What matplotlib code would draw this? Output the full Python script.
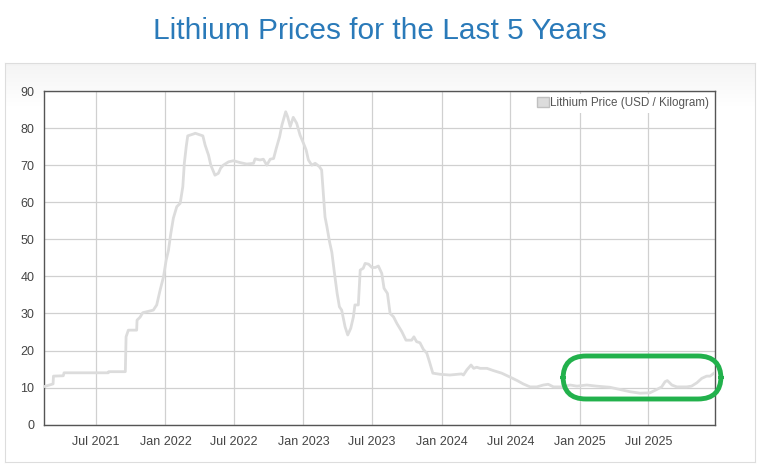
import matplotlib.pyplot as plt
from matplotlib.patches import FancyBboxPatch, Rectangle
import numpy as np
import pandas as pd

# values
dates = [
    '2021-02-15', '2021-03-10', '2021-03-11', '2021-04-06', '2021-04-08', '2021-08-03', '2021-08-04',
    '2021-09-17', '2021-09-19', '2021-09-25', '2021-10-17', '2021-10-18', '2021-10-26', '2021-11-02',
    '2021-11-30', '2021-12-09', '2021-12-18', '2021-12-27', '2022-01-03', '2022-01-09', '2022-01-15',
    '2022-01-22', '2022-01-31', '2022-02-09', '2022-02-16', '2022-02-20', '2022-02-25', '2022-03-01',
    '2022-03-16', '2022-03-21', '2022-04-10', '2022-04-16', '2022-04-25', '2022-05-01', '2022-05-12',
    '2022-05-21', '2022-05-27', '2022-06-03', '2022-06-17', '2022-06-30', '2022-07-17', '2022-08-04',
    '2022-08-22', '2022-08-26', '2022-09-08', '2022-09-17', '2022-09-26', '2022-10-05', '2022-10-14',
    '2022-10-21', '2022-10-30', '2022-11-05', '2022-11-15', '2022-11-20', '2022-11-27', '2022-12-05',
    '2022-12-14', '2022-12-23', '2023-01-01', '2023-01-08', '2023-01-14', '2023-01-23', '2023-02-01',
    '2023-02-12', '2023-02-18', '2023-02-23', '2023-02-27', '2023-03-04', '2023-03-11', '2023-03-17',
    '2023-03-24', '2023-03-31', '2023-04-06', '2023-04-12', '2023-04-21', '2023-04-28', '2023-05-06',
    '2023-05-13', '2023-05-17', '2023-05-26', '2023-05-31', '2023-06-08', '2023-06-13', '2023-06-22',
    '2023-07-01', '2023-07-10', '2023-07-18', '2023-07-27', '2023-08-02', '2023-08-11', '2023-08-18',
    '2023-08-27', '2023-09-05', '2023-09-18', '2023-09-29', '2023-10-14', '2023-10-20', '2023-10-27',
    '2023-11-05', '2023-11-14', '2023-11-23', '2023-11-30', '2023-12-09', '2023-12-28', '2024-01-23',
    '2024-02-23', '2024-02-28', '2024-03-08', '2024-03-19', '2024-03-26', '2024-04-03', '2024-04-12',
    '2024-04-30', '2024-05-17', '2024-06-08', '2024-07-01', '2024-07-19', '2024-08-04', '2024-08-22',
    '2024-09-09', '2024-09-26', '2024-10-09', '2024-10-23', '2024-11-14', '2024-12-06', '2024-12-24',
    '2025-01-19', '2025-02-14', '2025-03-21', '2025-04-17', '2025-05-13', '2025-06-09', '2025-07-05',
    '2025-07-23', '2025-08-05', '2025-08-14', '2025-08-20', '2025-09-01', '2025-09-14', '2025-10-10',
    '2025-10-23', '2025-11-06', '2025-11-19', '2025-12-02', '2025-12-11', '2025-12-24',
]
prices = [
    10.3, 11.0, 13.1, 13.2, 14.0, 14.0, 14.3,
    14.3, 23.7, 25.5, 25.5, 28.2, 29.0, 30.2,
    30.9, 32.3, 36.3, 39.9, 44.4, 47.0, 51.4,
    55.7, 58.8, 59.7, 64.2, 70.5, 75.0, 77.9,
    78.4, 78.6, 77.9, 75.4, 72.7, 70.0, 67.3,
    67.8, 69.2, 70.0, 70.9, 71.2, 70.7, 70.3,
    70.5, 71.7, 71.4, 71.6, 70.0, 71.6, 71.8,
    74.5, 77.7, 80.8, 84.4, 83.1, 80.4, 82.9,
    81.3, 78.1, 75.9, 74.1, 71.4, 70.0, 70.5,
    69.6, 68.7, 61.5, 56.0, 53.4, 49.3, 46.5,
    40.8, 35.4, 31.8, 30.9, 26.4, 24.2, 26.0,
    29.1, 32.3, 32.3, 41.7, 42.2, 43.5, 43.3,
    42.4, 42.4, 42.8, 40.8, 36.8, 35.4, 30.0,
    29.1, 27.3, 25.1, 22.8, 22.8, 23.7, 22.4,
    22.1, 20.3, 19.3, 17.0, 13.9, 13.6, 13.4,
    13.7, 13.4, 14.8, 16.1, 15.2, 15.5, 15.2,
    15.2, 14.6, 13.9, 12.8, 11.9, 11.0, 10.2,
    10.2, 10.7, 10.9, 10.2, 10.2, 10.7, 10.4,
    10.7, 10.4, 10.1, 9.5, 8.9, 8.5, 8.6,
    9.5, 10.2, 11.6, 11.9, 10.7, 10.2, 10.2,
    10.4, 11.3, 12.5, 13.1, 13.1, 14.1,
]
tick_dates = ['2021-07-01', '2022-01-01', '2022-07-01', '2023-01-01', '2023-07-01',
              '2024-01-01', '2024-07-01', '2025-01-01', '2025-07-01']
tick_labels = ['Jul 2021', 'Jan 2022', 'Jul 2022', 'Jan 2023', 'Jul 2023',
               'Jan 2024', 'Jul 2024', 'Jan 2025', 'Jul 2025']
x_start, x_end = '2021-02-14', '2025-12-24'
series_name = 'Lithium Price (USD / Kilogram)'

plt.rcParams['font.family'] = ['Liberation Sans', 'DejaVu Sans']

W, H = 764, 469
fig = plt.figure(figsize=(W / 100, H / 100), dpi=100)
fig.patch.set_facecolor('white')

# chart box with soft gradient at the top
bx0, by0, bx1, by1 = 5, 63, 755, 462
bg = fig.add_axes([bx0 / W, 1 - by1 / H, (bx1 - bx0) / W, (by1 - by0) / H], zorder=-5)
grad = np.ones((200, 2))
grad[:25] = np.linspace(0.955, 1.0, 25)[:, None]
bg.imshow(grad, cmap='gray', vmin=0, vmax=1, aspect='auto', extent=[0, 1, 0, 1])
bg.set_xticks([])
bg.set_yticks([])
for s in bg.spines.values():
    s.set_color('#dddddd')

fig.text(380 / W, 1 - 31 / H, 'Lithium Prices for the Last 5 Years', ha='center', va='center',
         fontsize=21.5, color='#2a7ab9')

ax = fig.add_axes([44 / W, 1 - 424.7 / H, (715 - 44) / W, (424.7 - 91) / H])
ax.set_facecolor('white')
x = pd.to_datetime(dates)
ax.plot(x, prices, color='#dcdcdc', lw=2, label=series_name, zorder=3)

ax.set_xlim(pd.Timestamp(x_start), pd.Timestamp(x_end))
ax.set_ylim(0, 90)
ax.set_yticks(range(0, 91, 10))
ax.set_xticks(pd.to_datetime(tick_dates))
ax.set_xticklabels(tick_labels)
ax.grid(True, color='#d0d0d0', lw=0.9)
ax.set_axisbelow(True)
ax.tick_params(length=0, labelsize=9, colors='#444444', pad=8)
ax.tick_params(axis='y', pad=7)
for s in ax.spines.values():
    s.set_color('#555555')
    s.set_linewidth(1)

leg = ax.legend(handles=[Rectangle((0, 0), 1, 1, facecolor='#dcdcdc', edgecolor='#c0c0c0')],
                labels=[series_name], loc='upper right', frameon=True, fontsize=8.4,
                handlelength=0.95, handleheight=0.95, handletextpad=0.1, borderpad=0.3,
                borderaxespad=0.25)
leg.get_frame().set_facecolor('white')
leg.get_frame().set_edgecolor('none')
leg.get_frame().set_alpha(1)
for t in leg.get_texts():
    t.set_color('#555555')

# green highlight drawn on top of the recent period
hx0, hy0, hx1, hy1 = 563, 356, 721, 399
fig.patches.append(FancyBboxPatch((hx0 / W, 1 - hy1 / H), (hx1 - hx0) / W, (hy1 - hy0) / H,
                                  boxstyle='round,pad=0,rounding_size=0.03',
                                  transform=fig.transFigure, fill=False,
                                  edgecolor='#22b14c', lw=3.5, zorder=10,
                                  mutation_aspect=W / H))

fig.savefig('out.png', dpi=100)
